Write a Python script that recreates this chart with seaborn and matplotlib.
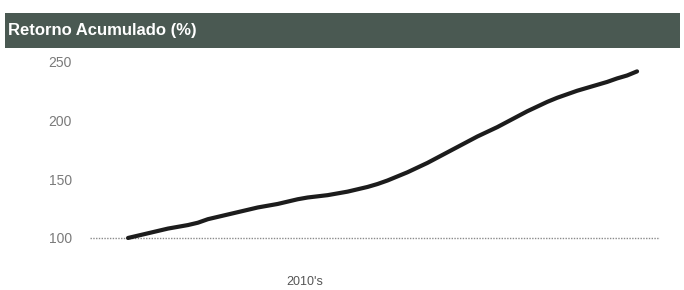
import matplotlib
matplotlib.use("Agg")
import matplotlib.pyplot as plt
import seaborn as sns
import pandas as pd
from matplotlib.patches import Rectangle

title = "Retorno Acumulado (%)"
x_label = "2010's"
y_ticks = [100, 150, 200, 250]
periods = list(range(52))
retorno = [100, 102, 104, 106, 108, 109.5, 111, 113, 116, 118,
           120, 122, 124, 126, 127.5, 129, 131, 133, 134.5, 135.5,
           136.5, 138, 139.5, 141.5, 143.5, 146, 149, 152.5, 156, 160,
           164, 168.5, 173, 177.5, 182, 186.5, 190.5, 194.5, 199, 203.5,
           208, 212, 216, 219.5, 222.5, 225.5, 228, 230.5, 233, 236,
           238.5, 242]

df = pd.DataFrame({"periodo": periods, "retorno": retorno})

sns.set_theme(style="white")
plt.rcParams["font.family"] = ["Liberation Sans", "DejaVu Sans"]

fig = plt.figure(figsize=(6.84, 2.9), dpi=100)
W, H = 684, 290

# title banner
fig.patches.append(Rectangle((5 / W, 1 - 48 / H), 675 / W, 35 / H,
                             transform=fig.transFigure, facecolor="#4a5952",
                             edgecolor="none", zorder=0))
fig.text(8 / W, 1 - 31 / H, title, color="white", fontsize=12,
         fontweight="bold", va="center", ha="left")

ax = fig.add_axes([90 / W, 1 - 249.7 / H, 570 / W, (249.7 - 62) / H])
ax.axhline(100, color="#8a8a8a", lw=1.0, ls=(0, (1, 1)), zorder=1)
sns.lineplot(data=df, x="periodo", y="retorno", ax=ax, color="#1c1c1c",
             lw=3.0, zorder=3)

ax.set_xlim(-3.81, 53.3)
ax.set_ylim(90, 250)
ax.set_yticks(y_ticks)
ax.set_yticklabels([str(v) for v in y_ticks])
ax.set_xticks([])
ax.set_xlabel("")
ax.set_ylabel("")
ax.tick_params(axis="y", length=0, pad=13, labelsize=10, labelcolor="#7a7a7a")
for s in ax.spines.values():
    s.set_visible(False)
ax.set_facecolor("none")

fig.text(305 / W, 1 - 282 / H, x_label, fontsize=9, color="#555555",
         ha="center", va="center")

fig.savefig("out.png", dpi=100)
